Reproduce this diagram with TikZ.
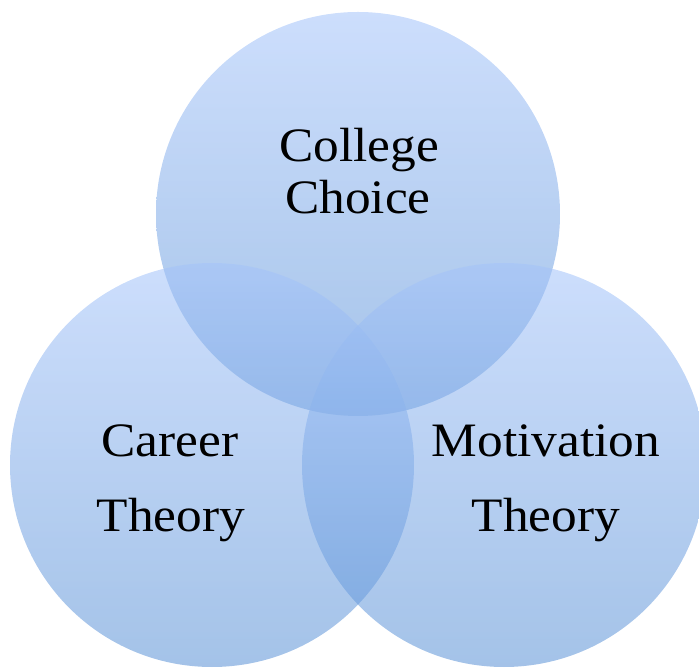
\documentclass[tikz,border=0pt]{standalone}
\usepackage{fontspec}
\setmainfont[FakeStretch=1.07]{Liberation Serif}
\definecolor{ctop}{RGB}{165,196,250}
\definecolor{cbot}{RGB}{92,147,214}
\begin{document}
\begin{tikzpicture}[x=0.75pt,y=0.75pt,
  venn/.style={top color=ctop,bottom color=cbot,fill opacity=0.56,draw=none},
  lbl/.style={anchor=base,text=black,inner sep=0pt,font=\fontsize{36}{40}\selectfont}]
\useasboundingbox (0,0) rectangle (699,667);
\shade[venn] (358,453) circle (202);
\shade[venn] (212,202) circle (202);
\shade[venn] (504,202) circle (202);
\node[lbl] (c1) at (359,505) {College};
\node[lbl] (c2) at (358,453) {Choice};
\node[lbl] (l1) at (170,210) {Career};
\node[lbl] (l2) at (171,135) {Theory};
\node[lbl] (r1) at (546,210) {Motivation};
\node[lbl] (r2) at (546,135) {Theory};
\end{tikzpicture}
\end{document}
